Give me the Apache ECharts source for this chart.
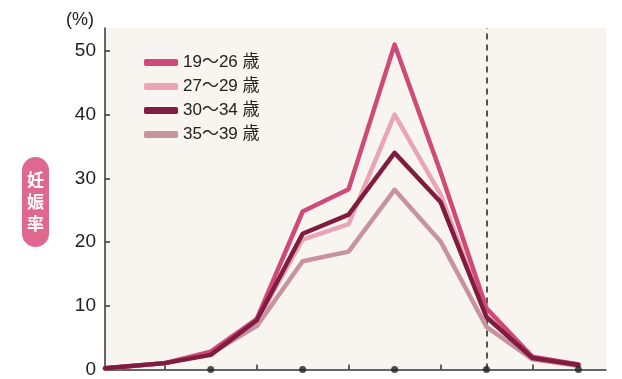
<!DOCTYPE html>
<html>
<head>
<meta charset="utf-8">
<script src="https://cdn.jsdelivr.net/npm/echarts@6/dist/echarts.min.js"></script>
<style>
html,body{margin:0;padding:0;background:#fff;}
#c{width:622px;height:379px;}
</style>
</head>
<body>
<div id="c"></div>
<script>
// Days relative to ovulation (0 = dashed line)
var days = [-8.3, -7, -6, -5, -4, -3, -2, -1, 0, 1, 2];
var seriesNames = ['19～26 歳', '27～29 歳', '30～34 歳', '35～39 歳'];
var s19_26 = [0.2, 1.0, 2.8, 7.9, 24.8, 28.3, 51.0, 31.0, 9.6, 2.0, 0.8];
var s27_29 = [0.2, 1.0, 2.6, 7.5, 20.4, 22.8, 40.0, 27.5, 8.4, 1.8, 0.8];
var s30_34 = [0.2, 1.0, 2.3, 7.7, 21.3, 24.3, 34.0, 26.3, 8.2, 1.8, 0.7];
var s35_39 = [0.2, 1.0, 2.5, 6.8, 17.0, 18.5, 28.2, 20.1, 6.7, 1.6, 0.6];
var yTicks = [0, 10, 20, 30, 40, 50];
var dotDays = [-6, -4, -2, 0, 2];
var tickDays = [-7, -5, -3, -1, 1];

var colors = ['#d04a79', '#e9a4b7', '#7f1c40', '#c6939f'];
var allData = [s19_26, s27_29, s30_34, s35_39];

function pairs(arr) { return days.map(function (d, i) { return [d, arr[i]]; }); }

var font = "'Liberation Sans', 'Noto Sans CJK JP', sans-serif";
var series = [];
// draw order: mauve, light pink, pink, dark on top
[3, 1, 0, 2].forEach(function (k) {
  series.push({
    name: seriesNames[k],
    type: 'line',
    data: pairs(allData[k]),
    symbol: 'none',
    lineStyle: { color: colors[k], width: 4.5, cap: 'round', join: 'round' },
    itemStyle: { color: colors[k] },
    z: 3
  });
});
series.push({
  type: 'scatter',
  data: dotDays.map(function (d) { return [d, 0]; }),
  symbol: 'circle',
  symbolSize: 7,
  itemStyle: { color: '#222' },
  clip: false,
  z: 5,
  silent: true,
  markLine: {
    silent: true,
    symbol: 'none',
    z: 2,
    label: { show: false },
    lineStyle: { color: '#555', type: [6, 5], width: 2 },
    data: [{ xAxis: 0 }]
  }
});

var chart = echarts.init(document.getElementById('c'));
chart.setOption({
  animation: false,
  backgroundColor: '#ffffff',
  grid: {
    left: 105, right: 16, top: 28, bottom: 4,
    show: true, backgroundColor: '#f8f4ef', borderWidth: 0
  },
  legend: {
    orient: 'vertical',
    left: 139, top: 48,
    itemWidth: 34, itemHeight: 7,
    itemGap: 5,
    icon: 'roundRect',
    data: seriesNames,
    textStyle: { fontSize: 17, color: '#222', fontFamily: font, lineHeight: 19 }
  },
  xAxis: {
    type: 'value',
    min: -8.3, max: 2.6,
    axisLine: { show: true, onZero: false, lineStyle: { color: '#333', width: 1.5 } },
    axisTick: { show: true, inside: true, length: 5, customValues: tickDays, lineStyle: { color: '#333', width: 1.5 } },
    axisLabel: { show: false },
    splitLine: { show: false }
  },
  yAxis: {
    type: 'value',
    min: 0, max: 53.6,
    interval: 10,
    axisLine: { show: true, onZero: false, lineStyle: { color: '#333', width: 1.5 } },
    axisTick: { show: true, inside: true, length: 5, customValues: yTicks, lineStyle: { color: '#333', width: 1.5 } },
    axisLabel: {
      customValues: yTicks,
      fontSize: 19, color: '#222', fontFamily: font, margin: 9
    },
    splitLine: { show: false }
  },
  graphic: [
    { type: 'text', left: 66, top: 11, style: { text: '(%)', fontSize: 18, fill: '#222', fontFamily: font } },
    { type: 'rect', shape: { x: 22, y: 157, width: 27, height: 90, r: 13.5 }, style: { fill: '#e0688e' } },
    { type: 'text', x: 35.5, y: 202, style: { text: '妊\n娠\n率', fontSize: 17, fontWeight: 'bold', fill: '#fff', align: 'center', verticalAlign: 'middle', lineHeight: 22, fontFamily: "'Noto Sans CJK JP', sans-serif" } }
  ],
  series: series
});
</script>
</body>
</html>
